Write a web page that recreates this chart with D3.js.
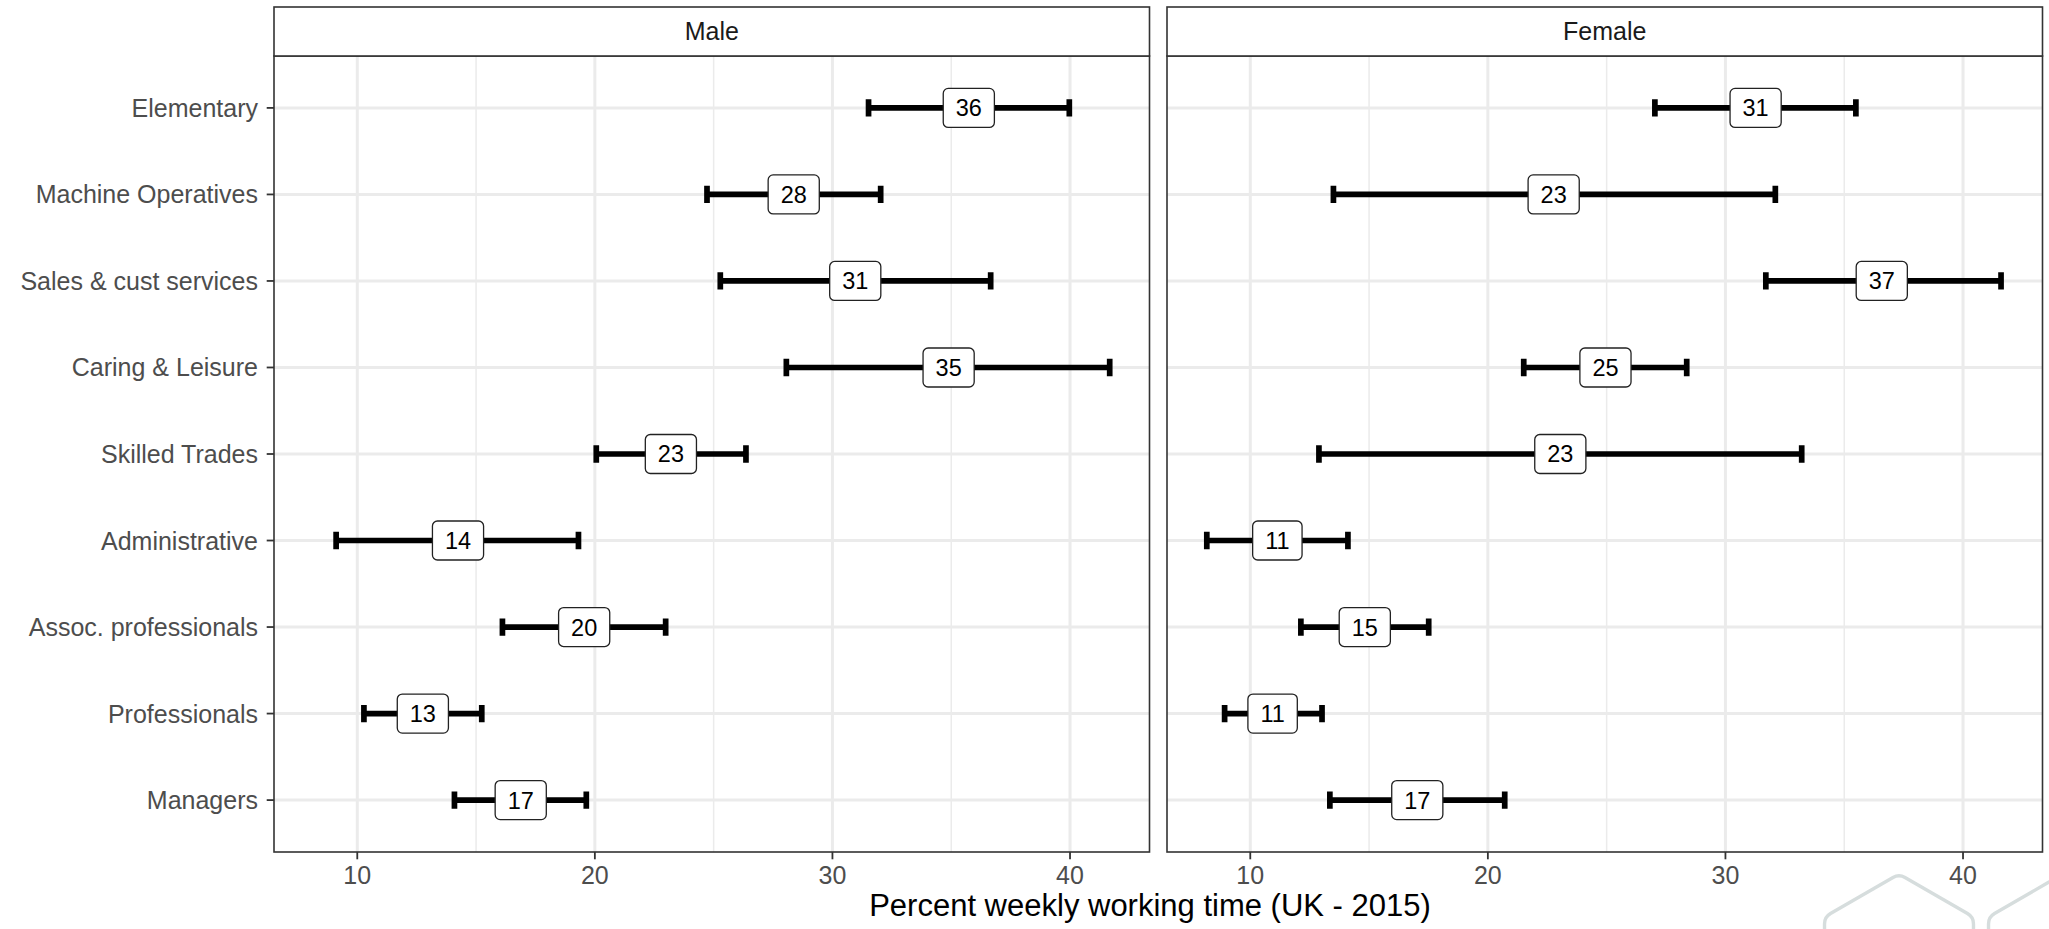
<!DOCTYPE html>
<html>
<head>
<meta charset="utf-8">
<script src="https://cdn.jsdelivr.net/npm/d3@7"></script>
<style>
  html, body { margin: 0; padding: 0; background: #fff; }
  svg { display: block; font-family: "Liberation Sans", Arial, Helvetica, sans-serif; }
  .gridline { stroke: #ebebeb; stroke-width: 3; }
  .gridline.minor { stroke-width: 1.5; }
  .panel-border { fill: none; stroke: #333; stroke-width: 1.6; }
  .strip { fill: #fff; stroke: #333; stroke-width: 1.6; }
  .strip-text { fill: #1a1a1a; font-size: 25px; }
  .tick-label { fill: #4d4d4d; font-size: 25px; }
  .tick { stroke: #333; stroke-width: 1.8; }
  .errbar { fill: none; stroke: #000; stroke-width: 5.7; stroke-linecap: butt; }
  .lbl-box { fill: #fff; stroke: #222; stroke-width: 1.3; }
  .lbl-text { fill: #000; font-size: 23.5px; }
  .axis-title { fill: #000; font-size: 31px; }
  .hex { fill: none; stroke: #d6dddd; stroke-width: 3.4; }
</style>
</head>
<body>
<div id="chart"></div>
<script>
// Occupations, top to bottom as they appear on the y axis.
const categories = [
  "Elementary", "Machine Operatives", "Sales & cust services", "Caring & Leisure",
  "Skilled Trades", "Administrative", "Assoc. professionals", "Professionals", "Managers"
];
const panels = ["Male", "Female"];

// Percent weekly working time: point estimate and interval, per occupation.
const maleMean = [35.74, 28.37, 30.96, 34.89, 23.20, 14.24, 19.55, 12.76, 16.88];
const maleLow  = [31.52, 24.72, 25.28, 28.06, 20.06,  9.11, 16.11, 10.28, 14.09];
const maleHigh = [39.97, 32.03, 36.66, 41.67, 26.36, 19.31, 22.98, 15.24, 19.64];

const femaleMean = [31.27, 22.77, 36.58, 24.95, 23.05, 11.14, 14.82, 10.94, 17.03];
const femaleLow  = [27.03, 13.50, 31.70, 21.51, 12.89,  8.17, 12.13,  8.92, 13.35];
const femaleHigh = [35.49, 32.10, 41.60, 28.37, 33.21, 14.11, 17.51, 13.02, 20.71];

const xTitle = "Percent weekly working time (UK - 2015)";

const W = 2049, H = 929;
const panelLeft = [274, 1167], panelW = 875.5;
const stripTop = 7, panelTop = 56, panelBottom = 852;

const series = {
  Male: categories.map((c, i) => ({ cat: c, mean: maleMean[i], lo: maleLow[i], hi: maleHigh[i] })),
  Female: categories.map((c, i) => ({ cat: c, mean: femaleMean[i], lo: femaleLow[i], hi: femaleHigh[i] }))
};

// ggplot-like 5% expansion around the data range (shared x across facets).
const allVals = [...maleLow, ...maleHigh, ...femaleLow, ...femaleHigh];
const [vMin, vMax] = d3.extent(allVals);
const pad = (vMax - vMin) * 0.05;

const y = d3.scalePoint(categories, [panelTop, panelBottom]).padding(0.6);
const capHalf = y.step() * 0.1;

const svg = d3.select("#chart").append("svg").attr("width", W).attr("height", H);

panels.forEach((name, pi) => {
  const x0 = panelLeft[pi];
  const x = d3.scaleLinear([vMin - pad, vMax + pad], [x0, x0 + panelW]);
  const major = x.ticks(4);
  const minor = x.ticks(8).filter((t) => !major.includes(t));
  const g = svg.append("g");

  // grid
  g.selectAll(null).data(minor).join("line").attr("class", "gridline minor")
    .attr("x1", (d) => x(d)).attr("x2", (d) => x(d)).attr("y1", panelTop).attr("y2", panelBottom);
  g.selectAll(null).data(major).join("line").attr("class", "gridline")
    .attr("x1", (d) => x(d)).attr("x2", (d) => x(d)).attr("y1", panelTop).attr("y2", panelBottom);
  g.selectAll(null).data(categories).join("line").attr("class", "gridline")
    .attr("x1", x0).attr("x2", x0 + panelW).attr("y1", (d) => y(d)).attr("y2", (d) => y(d));

  // error bars with caps
  const data = series[name];
  g.selectAll(null).data(data).join("path").attr("class", "errbar")
    .attr("d", (d) => {
      const yy = y(d.cat), a = x(d.lo), b = x(d.hi);
      return `M${a},${yy - capHalf}V${yy + capHalf}M${a},${yy}H${b}M${b},${yy - capHalf}V${yy + capHalf}`;
    });

  // value labels
  const lg = g.selectAll(null).data(data).join("g")
    .attr("transform", (d) => `translate(${x(d.mean)},${y(d.cat)})`);
  lg.append("text").attr("class", "lbl-text").attr("text-anchor", "middle")
    .attr("dy", "0.36em").text((d) => Math.round(d.mean));
  lg.each(function () {
    const t = d3.select(this).select("text");
    const w = t.node().getComputedTextLength() + 25;
    const h = 39;
    d3.select(this).insert("rect", "text").attr("class", "lbl-box")
      .attr("x", -w / 2).attr("y", -h / 2).attr("width", w).attr("height", h).attr("rx", 5);
  });

  // border + strip
  g.append("rect").attr("class", "panel-border")
    .attr("x", x0).attr("y", panelTop).attr("width", panelW).attr("height", panelBottom - panelTop);
  g.append("rect").attr("class", "strip")
    .attr("x", x0).attr("y", stripTop).attr("width", panelW).attr("height", panelTop - stripTop);
  g.append("text").attr("class", "strip-text").attr("text-anchor", "middle")
    .attr("x", x0 + panelW / 2).attr("y", (stripTop + panelTop) / 2).attr("dy", "0.35em").text(name);

  // x axis
  g.selectAll(null).data(major).join("line").attr("class", "tick")
    .attr("x1", (d) => x(d)).attr("x2", (d) => x(d)).attr("y1", panelBottom).attr("y2", panelBottom + 7.3);
  g.selectAll(null).data(major).join("text").attr("class", "tick-label").attr("text-anchor", "middle")
    .attr("x", (d) => x(d)).attr("y", 884).text((d) => d);

  // y axis only on the first facet
  if (pi === 0) {
    g.selectAll(null).data(categories).join("line").attr("class", "tick")
      .attr("x1", x0 - 7.3).attr("x2", x0).attr("y1", (d) => y(d)).attr("y2", (d) => y(d));
    g.selectAll(null).data(categories).join("text").attr("class", "tick-label").attr("text-anchor", "end")
      .attr("x", x0 - 16).attr("y", (d) => y(d)).attr("dy", "0.36em").text((d) => d);
  }
});

svg.append("text").attr("class", "axis-title").attr("text-anchor", "middle")
  .attr("x", 1150).attr("y", 916).text(xTitle);

// faint hexagon watermark, bottom-right corner (clipped by the page edge)
function roundedHex(cx, cy, r, rr) {
  const pts = d3.range(6).map((i) => {
    const a = -Math.PI / 2 + i * Math.PI / 3;
    return [cx + r * Math.cos(a), cy + r * Math.sin(a)];
  });
  const p = d3.path();
  const mid = (a, b) => [(a[0] + b[0]) / 2, (a[1] + b[1]) / 2];
  const s = mid(pts[5], pts[0]);
  p.moveTo(s[0], s[1]);
  for (let i = 0; i < 6; i++) {
    const c = pts[i], n = pts[(i + 1) % 6];
    const m = mid(c, n);
    p.arcTo(c[0], c[1], m[0], m[1], rr);
  }
  p.closePath();
  return p.toString();
}
const hexCenters = [[1899, 960], [2063, 960]];
svg.selectAll(null).data(hexCenters).join("path").attr("class", "hex")
  .attr("d", (d) => roundedHex(d[0], d[1], 86, 12));
</script>
</body>
</html>
